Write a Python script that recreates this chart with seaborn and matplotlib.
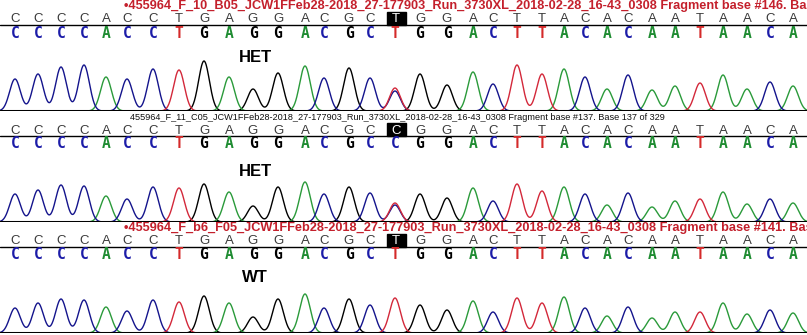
import numpy as np
import pandas as pd
import matplotlib
matplotlib.use("Agg")
import matplotlib.pyplot as plt
from matplotlib.patches import Rectangle
import seaborn as sns

sns.set_theme(style="white")
plt.rcParams["font.family"] = ["Liberation Sans", "DejaVu Sans"]

# ---- data -------------------------------------------------------------
# scan positions of the called peaks
peak_scan = [15, 38, 61, 84, 106, 127, 153, 179, 204, 229, 253, 278, 305, 324,
             349, 370, 395, 420, 447, 473, 493, 517, 542, 564, 585, 607, 628,
             652, 675, 700, 723, 747, 770, 793]

calls_1 = "CCCCACCTGAGGACGCTGGACTTACACAATAACA"
calls_2 = "CCCCACCTGAGGACGCCGGACTTACACAATAACA"
calls_3 = "CCCCACCTGAGGACGCTGGACTTACACAATAACA"

# primary peak heights (signal units)
height_1 = [32, 37, 44, 46, 34, 32, 42, 41, 50, 34, 22, 38, 45, 33, 43, 33, 23,
            37, 26, 39, 27, 46, 37, 42, 34, 22, 36, 21, 25, 28, 36, 22, 29, 25]
height_2 = [28, 32, 37, 36, 26, 23, 35, 34, 38, 30, 16, 35, 40, 28, 35, 29, 17,
            28, 24, 34, 21, 38, 31, 35, 28, 17, 29, 15, 21, 23, 30, 18, 23, 19]
height_3 = [25, 30, 34, 33, 26, 22, 33, 31, 37, 30, 16, 34, 39, 25, 34, 28, 35,
            28, 23, 32, 21, 35, 30, 36, 25, 17, 26, 15, 21, 21, 30, 19, 23, 20]

# secondary (heterozygous) peaks: (peak index, base, height)
second_1 = [(16, "C", 20)]
second_2 = [(16, "T", 19)]
second_3 = []

titles = [
    "\u2022455964_F_10_B05_JCW1FFeb28-2018_27-177903_Run_3730XL_2018-02-28_16-43_0308 Fragment base #146. Base",
    "455964_F_11_C05_JCW1FFeb28-2018_27-177903_Run_3730XL_2018-02-28_16-43_0308 Fragment base #137. Base 137 of 329",
    "\u2022455964_F_b6_F05_JCW1FFeb28-2018_27-177903_Run_3730XL_2018-02-28_16-43_0308 Fragment base #141. Base",
]
genotypes = ["HET", "HET", "WT"]
focus_index = 16

base_colors = {"A": "#1f8c32", "C": "#1c1ca8", "G": "#000000", "T": "#d42a2a"}
trace_colors = {"A": "#2a9a3a", "C": "#14148c", "G": "#000000", "T": "#d3283a"}

# ---- layout (pixel rows of each lane) ---------------------------------
W, H = 807, 335
lanes = [
    dict(title_y=6, gray_y=19.5, line_y=25, bold_y=33, label_y=58, base=111,
         title_color="#c4202c", title_weight="bold", title_size=9.2, title_x=124),
    dict(title_y=117, gray_y=130.5, line_y=136, bold_y=144, label_y=172, base=222,
         title_color="#111111", title_weight="normal", title_size=6.6, title_x=130),
    dict(title_y=227.5, gray_y=241.5, line_y=247, bold_y=254.5, label_y=277, base=333,
         title_color="#c4202c", title_weight="bold", title_size=9.2, title_x=124),
]
calls = [calls_1, calls_2, calls_3]
heights = [height_1, height_2, height_3]
seconds = [second_1, second_2, second_3]

fig = plt.figure(figsize=(W / 100, H / 100), dpi=100)
bg = fig.add_axes([0, 0, 1, 1])
bg.set_xlim(0, W)
bg.set_ylim(H, 0)
bg.axis("off")

scan = np.linspace(-10, W + 10, 2400)
sigma = 5.4
TRACE_H = 75

for k, lane in enumerate(lanes):
    # header
    bg.text(lane["title_x"], lane["title_y"], titles[k], color=lane["title_color"],
            fontsize=lane["title_size"], fontweight=lane["title_weight"],
            ha="left", va="center", clip_on=True)
    # called bases (grey row) with highlighted focus base
    for i, (x, b) in enumerate(zip(peak_scan, calls[k])):
        if i == focus_index:
            bg.add_patch(Rectangle((x - 8.5, lane["gray_y"] - 7.5), 19, 12.5,
                                   color="black", zorder=2))
            bg.text(x + 1, lane["gray_y"], b, color="white", fontsize=9.5,
                    ha="center", va="center", zorder=3)
        else:
            bg.text(x, lane["gray_y"], b, color="#3a3a3a", fontsize=9.5,
                    ha="center", va="center")
    bg.plot([0, W], [lane["line_y"]] * 2, color="black", lw=1.0)
    # coloured bold base row
    for x, b in zip(peak_scan, calls[k]):
        bg.text(x, lane["bold_y"], b, color=base_colors[b], fontsize=10.5,
                fontweight="bold", family="DejaVu Sans Mono",
                ha="center", va="center")
    bg.text(255, lane["label_y"], genotypes[k], fontsize=12, fontweight="bold",
            color="black", ha="center", va="center")

    # trace data frame: one curve per dye channel
    rows = []
    for ch in "GACT":
        sig = np.zeros_like(scan)
        for x, b, h in zip(peak_scan, calls[k], heights[k]):
            if b == ch:
                sig += h * np.exp(-0.5 * ((scan - x) / sigma) ** 2)
        for idx, b, h in seconds[k]:
            if b == ch:
                sig += h * np.exp(-0.5 * ((scan - peak_scan[idx]) / sigma) ** 2)
        rows.append(pd.DataFrame({"scan": scan, "signal": sig, "channel": ch}))
    df = pd.concat(rows, ignore_index=True)

    ax = fig.add_axes([0, 1 - lane["base"] / H, 1, TRACE_H / H])
    sns.lineplot(data=df, x="scan", y="signal", hue="channel",
                 hue_order=["G", "A", "C", "T"], palette=trace_colors,
                 estimator=None, sort=False, legend=False, linewidth=1.0, ax=ax)
    ax.axhline(0, color="black", lw=2.2, zorder=10)
    ax.set_xlim(0, W)
    ax.set_ylim(0, TRACE_H)
    ax.axis("off")
    ax.patch.set_alpha(0)

fig.savefig("out.png", dpi=100, facecolor="white")
